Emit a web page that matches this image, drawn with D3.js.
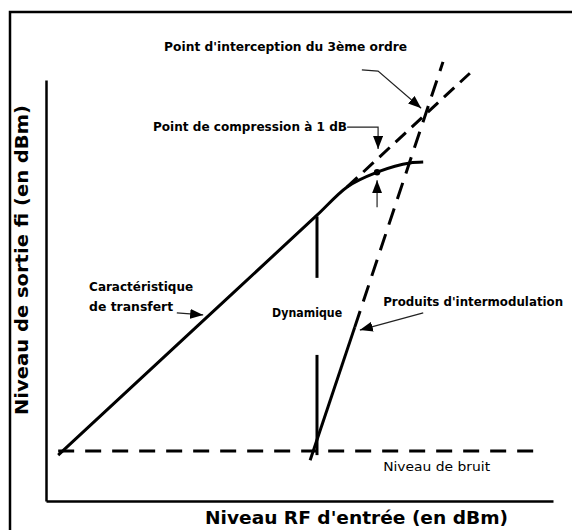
<!doctype html>
<html lang="fr">
<head>
  <meta charset="utf-8">
  <title>Dynamique et point d'interception</title>
  <script src="https://d3js.org/d3.v7.min.js"></script>
  <style>
    body { margin: 0; background: #fff; }
    svg text { font-family: "Comic Sans MS", "DejaVu Sans", sans-serif; fill: #000; }
    .lbl { font-weight: bold; font-size: 11.5px; }
    .title { font-weight: bold; font-size: 17px; }
  </style>
</head>
<body>
<script>
// values in arbitrary dBm-like units (x: input, y: output)
var transfer = [[2.4, 10.9], [30, 41.7], [53.45, 67.9], [59.4, 74.6], [65.3, 78.1], [71.8, 80.3], [74.4, 80.5]];
var transferExt = [[59.4, 74.6], [83.6, 101.6]];
var im3Solid = [[52.1, 9.7], [60.9, 41.3]];
var im3Dashed = [[60.9, 41.3], [78.3, 104.3]];
var noiseFloor = [[2.4, 11.9], [96.1, 11.9]];
var dynTop = [[53.45, 67.6], [53.45, 53.0]];
var dynBottom = [[53.45, 34.7], [53.45, 10.9]];
var compPoint = [65.3, 78.1];

var labels = [
  {t: "Point d'interception du 3ème ordre", x: 23.3, y: 107.8, w: 243},
  {t: "Point de compression à 1 dB", x: 21.1, y: 88.8, w: 194},
  {t: "Caractéristique", x: 8.5, y: 50.8, w: 104},
  {t: "de transfert", x: 8.5, y: 46.1, w: 84},
  {t: "Dynamique", x: 44.6, y: 44.7, w: 70},
  {t: "Produits d'intermodulation", x: 66.5, y: 47.3, w: 180},
  {t: "Niveau de bruit", x: 66.5, y: 8.1, w: 107, light: true}
];

// annotation arrows: polyline, last point is the tip
var arrows = [
  [[25.8, 44.7], [31.0, 44.2]],
  [[74.4, 44.7], [61.9, 40.6]],
  [[59.4, 88.8], [65.5, 88.8], [65.5, 83.6]],
  [[62.3, 102.4], [65.5, 102.1], [74.0, 93.3]],
  [[65.3, 69.8], [65.3, 76.2]]
];

var xTitle = "Niveau RF d'entrée (en dBm)";
var yTitle = "Niveau de sortie fi  (en dBm)";

var width = 572, height = 530;
var svg = d3.select('body').append('svg')
  .attr('width', width).attr('height', height);

var x = d3.scaleLinear().domain([0, 100]).range([46, 553]);
var y = d3.scaleLinear().domain([0, 100]).range([501, 80]);

// frame (runs off the right and bottom edges)
svg.append('rect')
  .attr('x', 10).attr('y', 12).attr('width', 600).attr('height', 600)
  .attr('fill', 'none').attr('stroke', '#000').attr('stroke-width', 2.5);

svg.append('g').attr('transform', 'translate(0,' + y(0) + ')')
  .call(d3.axisBottom(x).ticks(0).tickSizeOuter(0))
  .select('.domain').attr('stroke-width', 2.5);
svg.append('g').attr('transform', 'translate(' + x(0) + ',0)')
  .call(d3.axisLeft(y).ticks(0).tickSizeOuter(0))
  .select('.domain').attr('stroke-width', 2.5);

var line = d3.line().x(d => x(d[0])).y(d => y(d[1]));

function draw(data, dash, curve) {
  svg.append('path').datum(data)
    .attr('d', line.curve(curve || d3.curveLinear)(data))
    .attr('fill', 'none').attr('stroke', '#000').attr('stroke-width', 3)
    .attr('stroke-dasharray', dash || null);
}

draw(noiseFloor, '16,11');
draw(transferExt, '14,8');
draw(im3Dashed, '17,10');
draw(transfer, null, d3.curveMonotoneX);
draw(im3Solid);
draw(dynTop);
draw(dynBottom);

svg.append('circle').attr('cx', x(compPoint[0])).attr('cy', y(compPoint[1])).attr('r', 3.2);

var defs = svg.append('defs');
defs.append('marker').attr('id', 'head')
  .attr('viewBox', '0 0 13 10').attr('refX', 13).attr('refY', 5)
  .attr('markerWidth', 13).attr('markerHeight', 10)
  .attr('markerUnits', 'userSpaceOnUse').attr('orient', 'auto')
  .append('path').attr('d', 'M0,0L13,5L0,10Z').attr('fill', '#000');

svg.selectAll('.arrow').data(arrows).enter().append('path')
  .attr('class', 'arrow')
  .attr('d', d => line.curve(d3.curveLinear)(d))
  .attr('fill', 'none').attr('stroke', '#222').attr('stroke-width', 1.2)
  .attr('marker-end', 'url(#head)');

svg.selectAll('.lbl').data(labels).enter().append('text')
  .attr('class', 'lbl')
  .attr('x', d => x(d.x)).attr('y', d => y(d.y))
  .attr('dominant-baseline', 'central')
  .style('font-weight', d => d.light ? 'normal' : 'bold')
  .attr('textLength', d => d.w).attr('lengthAdjust', 'spacingAndGlyphs')
  .text(d => d.t);

svg.append('text').attr('class', 'title')
  .attr('x', 205).attr('y', 518).attr('dominant-baseline', 'central')
  .attr('textLength', 303).attr('lengthAdjust', 'spacingAndGlyphs')
  .text(xTitle);

svg.append('text').attr('class', 'title')
  .attr('transform', 'translate(22,415) rotate(-90)')
  .attr('dominant-baseline', 'central')
  .attr('textLength', 310).attr('lengthAdjust', 'spacingAndGlyphs')
  .text(yTitle);
</script>
</body>
</html>
